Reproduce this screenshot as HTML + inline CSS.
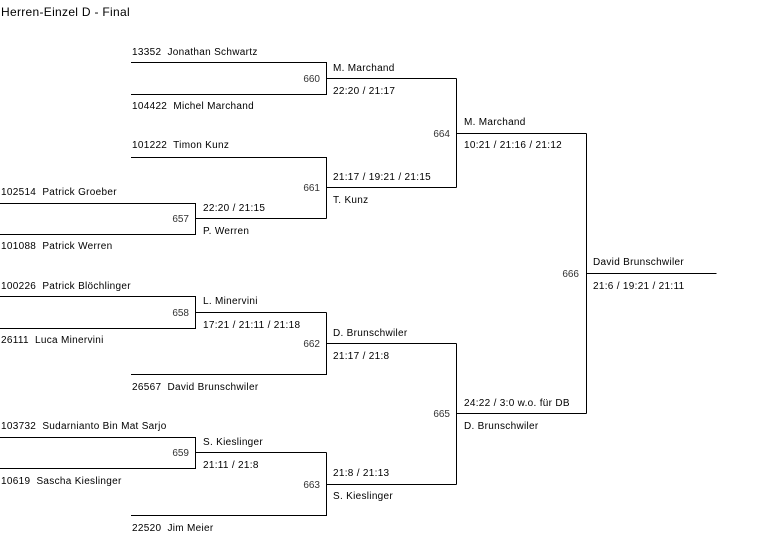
<!DOCTYPE html>
<html><head><meta charset="utf-8"><style>
html,body{margin:0;padding:0;background:#fff;width:783px;height:540px;overflow:hidden}
svg{display:block}
text{font-family:"Liberation Sans",Arial,sans-serif;font-size:10px;fill:#000;white-space:pre;letter-spacing:0.3px}
.n{fill:#333;letter-spacing:0}
</style></head><body>
<svg width="783" height="540" viewBox="0 0 783 540" xml:space="preserve">
<g stroke="#000" stroke-width="1" fill="none" shape-rendering="crispEdges">
<polyline points="0,203.5 195.5,203.5 195.5,234.5 0,234.5"/>
<line x1="195.5" y1="218.5" x2="326.5" y2="218.5"/>
<polyline points="131,62.5 326.5,62.5 326.5,94.5 131,94.5"/>
<line x1="326.5" y1="78.5" x2="456.5" y2="78.5"/>
<polyline points="131,157.5 326.5,157.5 326.5,218.5"/>
<line x1="326.5" y1="187.5" x2="456.5" y2="187.5"/>
<line x1="456.5" y1="78.5" x2="456.5" y2="187.5"/>
<line x1="456.5" y1="133.5" x2="586.5" y2="133.5"/>
<polyline points="0,296.5 195.5,296.5 195.5,328.5 0,328.5"/>
<line x1="195.5" y1="312.5" x2="326.5" y2="312.5"/>
<polyline points="326.5,312.5 326.5,374.5 131,374.5"/>
<line x1="326.5" y1="343.5" x2="456.5" y2="343.5"/>
<polyline points="0,437.5 195.5,437.5 195.5,468.5 0,468.5"/>
<line x1="195.5" y1="452.5" x2="326.5" y2="452.5"/>
<polyline points="326.5,452.5 326.5,515.5 131,515.5"/>
<line x1="326.5" y1="484.5" x2="456.5" y2="484.5"/>
<line x1="456.5" y1="343.5" x2="456.5" y2="484.5"/>
<line x1="456.5" y1="413.5" x2="586.5" y2="413.5"/>
<line x1="586.5" y1="133.5" x2="586.5" y2="413.5"/>
<line x1="586.5" y1="273.5" x2="716.5" y2="273.5"/>
</g>
<text x="1" y="16" style="font-size:12px">Herren-Einzel D - Final</text>

<text x="132" y="55">13352  Jonathan Schwartz</text>
<text x="132" y="109">104422  Michel Marchand</text>
<text x="132" y="148">101222  Timon Kunz</text>
<text x="1" y="195">102514  Patrick Groeber</text>
<text x="1" y="249">101088  Patrick Werren</text>
<text x="1" y="289">100226  Patrick Blöchlinger</text>
<text x="1" y="343">26111  Luca Minervini</text>
<text x="132" y="390">26567  David Brunschwiler</text>
<text x="1" y="429">103732  Sudarnianto Bin Mat Sarjo</text>
<text x="1" y="484">10619  Sascha Kieslinger</text>
<text x="132" y="531">22520  Jim Meier</text>

<text class="n" x="189" y="222" text-anchor="end">657</text>
<text class="n" x="189" y="316" text-anchor="end">658</text>
<text class="n" x="189" y="456" text-anchor="end">659</text>
<text class="n" x="320" y="82" text-anchor="end">660</text>
<text class="n" x="320" y="191" text-anchor="end">661</text>
<text class="n" x="320" y="347" text-anchor="end">662</text>
<text class="n" x="320" y="488" text-anchor="end">663</text>
<text class="n" x="450" y="137" text-anchor="end">664</text>
<text class="n" x="450" y="417" text-anchor="end">665</text>
<text class="n" x="579" y="277" text-anchor="end">666</text>

<text x="203" y="211">22:20 / 21:15</text>
<text x="203" y="234">P. Werren</text>
<text x="203" y="304">L. Minervini</text>
<text x="203" y="328">17:21 / 21:11 / 21:18</text>
<text x="203" y="445">S. Kieslinger</text>
<text x="203" y="468">21:11 / 21:8</text>

<text x="333" y="71">M. Marchand</text>
<text x="333" y="94">22:20 / 21:17</text>
<text x="333" y="180">21:17 / 19:21 / 21:15</text>
<text x="333" y="203">T. Kunz</text>
<text x="333" y="336">D. Brunschwiler</text>
<text x="333" y="359">21:17 / 21:8</text>
<text x="333" y="476">21:8 / 21:13</text>
<text x="333" y="499">S. Kieslinger</text>

<text x="464" y="125">M. Marchand</text>
<text x="464" y="148">10:21 / 21:16 / 21:12</text>
<text x="464" y="406">24:22 / 3:0 w.o. für DB</text>
<text x="464" y="429">D. Brunschwiler</text>

<text x="593" y="265">David Brunschwiler</text>
<text x="593" y="289">21:6 / 19:21 / 21:11</text>
</svg>
</body></html>
